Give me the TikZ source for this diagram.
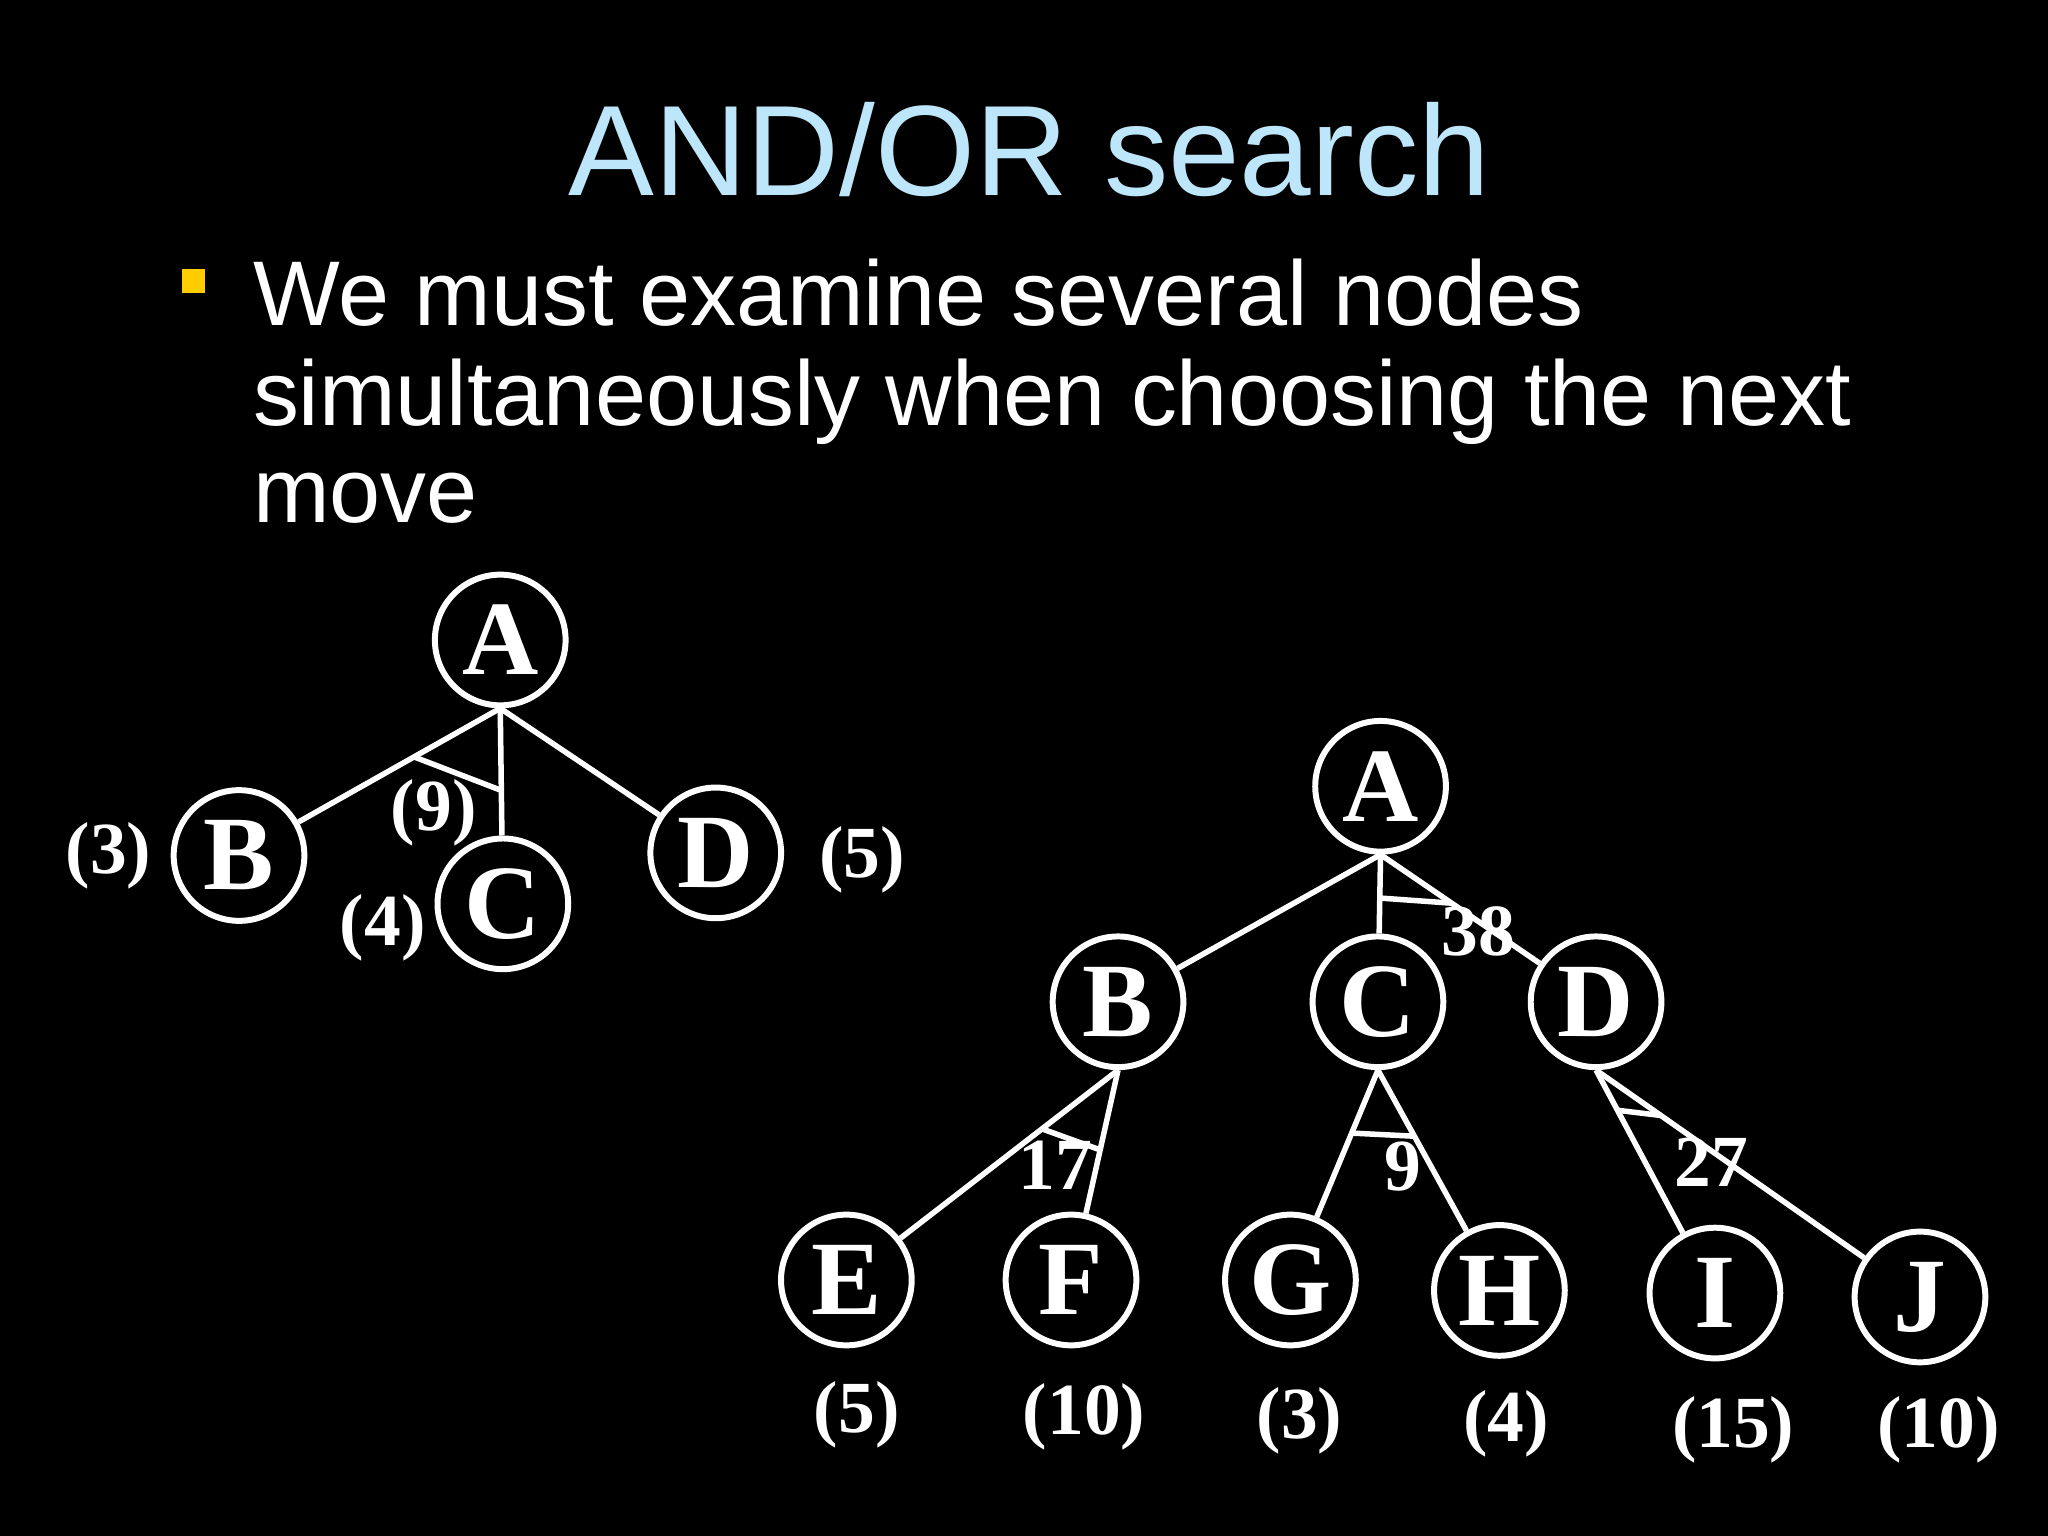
\documentclass[tikz,border=0pt]{standalone}
\usepackage{fontspec}
\setmainfont{Liberation Serif}
\newfontfamily\arialf{Liberation Sans}
\usetikzlibrary{calc}
\definecolor{titleblue}{HTML}{BDE6FA}
\definecolor{bulletyellow}{HTML}{FFCC00}
\tikzset{
  tn/.style={circle,draw=white,line width=1.3pt,minimum size=1cm,inner sep=0pt,text=white,font=\fontsize{23}{23}\selectfont\bfseries},
  ed/.style={draw=white,line width=1.2pt},
  lab/.style={text=white,font=\fontsize{16}{16}\selectfont\bfseries},
  body/.style={text=white,font=\arialf\fontsize{20}{20}\selectfont,anchor=base west,inner sep=0pt}
}
\begin{document}
\begin{tikzpicture}[x=0.01cm,y=-0.01cm]
\fill[black] (0,0) rectangle (1568,1176);
\useasboundingbox (0,0) rectangle (1568,1176);
\node[text=titleblue,font=\arialf\fontsize{28}{28}\selectfont,anchor=base] (title) at (788,150) {AND/OR search};
\fill[bulletyellow] (139,206) rectangle (157,224) coordinate (bul);
\node[body] (l1) at (193,249) {We must examine several nodes};
\node[body] (l2) at (193,326) {simultaneously when choosing the next};
\node[body] (l3) at (193,400) {move};
% left tree
\node[tn] (A1) at (383,490) {A};
\node[tn] (B1) at (183,655) {B};
\node[tn] (C1) at (385,692) {C};
\node[tn] (D1) at (548,653) {D};
\draw[ed] (A1.south) -- (B1);
\draw[ed] (A1.south) -- (C1);
\draw[ed] (A1.south) -- (D1);
\draw[ed] ($(A1.south)!0.33!(B1)$) -- ($(A1.south)!0.42!(C1)$);
\node[lab] (l3a) at (83,655) {(3)};
\node[lab] (l9a) at (332,622) {(9)};
\node[lab] (l4a) at (293,710) {(4)};
\node[lab] (l5a) at (660,658) {(5)};
% right tree
\node[tn] (A) at (1057,602) {A};
\node[tn] (B) at (856,767) {B};
\node[tn] (C) at (1055,767) {C};
\node[tn] (D) at (1222,767) {D};
\node[tn] (E) at (648,980) {E};
\node[tn] (F) at (820,980) {F};
\node[tn] (G) at (988,980) {G};
\node[tn] (H) at (1148,988) {H};
\node[tn] (I) at (1313,990) {I};
\node[tn] (J) at (1470,993) {J};
\draw[ed] (A.south) -- (B);
\draw[ed] (A.south) -- (C);
\draw[ed] (A.south) -- (D);
\draw[ed] ($(A.south)!0.55!(C.north)$) -- ($(A.south)!0.33!(D)$);
\draw[ed] (B.south) -- (E);
\draw[ed] (B.south) -- (F);
\draw[ed] ($(B.south)!0.28!(E)$) -- ($(B.south)!0.38!(F)$);
\draw[ed] (C.south) -- (G);
\draw[ed] (C.south) -- (H);
\draw[ed] ($(C.south)!0.3!(G)$) -- ($(C.south)!0.3!(H)$);
\draw[ed] (D.south) -- (I);
\draw[ed] (D.south) -- (J);
\draw[ed] ($(D.south)!0.18!(I)$) -- ($(D.south)!0.2!(J)$);
\node[lab] (n38) at (1132,713) {38};
\node[lab] (n17) at (808,892) {17};
\node[lab] (n9) at (1074,893) {9};
\node[lab] (n27) at (1310,890) {27};
\node[lab] (e5) at (656,1083) {(5)};
\node[lab] (f10) at (830,1085) {(10)};
\node[lab] (g3) at (995,1088) {(3)};
\node[lab] (h4) at (1153,1090) {(4)};
\node[lab] (i15) at (1327,1095) {(15)};
\node[lab] (j10) at (1484,1095) {(10)};
\end{tikzpicture}
\end{document}
